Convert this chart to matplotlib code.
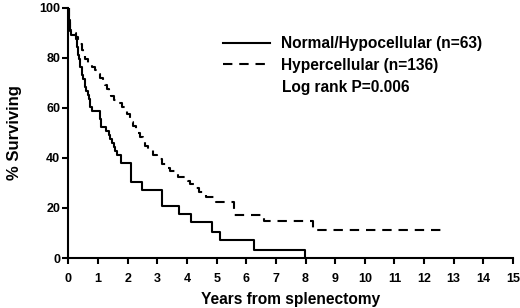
import matplotlib
matplotlib.use("Agg")
import matplotlib.pyplot as plt
from matplotlib.lines import Line2D

plt.rcParams['font.family'] = ['Liberation Sans', 'DejaVu Sans']
plt.rcParams['font.weight'] = 'bold'

# Normal/Hypocellular (n=63) Kaplan-Meier steps
normal_t = [0.00, 0.02, 0.05, 0.08, 0.24, 0.28, 0.33, 0.37, 0.40, 0.45, 0.50, 0.55,
            0.60, 0.65, 0.70, 0.74, 0.78, 1.06, 1.10, 1.28, 1.36, 1.40, 1.46, 1.52,
            1.57, 1.65, 1.76, 2.10, 2.48, 3.14, 3.72, 4.15, 4.85, 5.12, 6.27, 7.97]
normal_s = [100, 95.2, 90.5, 88.9, 87.3, 84.1, 81.0, 79.4, 76.2, 73.0, 71.4, 68.3,
            66.7, 65.1, 63.5, 60.3, 58.7, 55.6, 52.4, 50.8, 49.2, 47.6, 46.0, 44.4,
            42.9, 41.3, 38.1, 30.2, 27.0, 20.6, 17.5, 14.3, 10.5, 7.0, 3.2, 0.0]

# Hypercellular (n=136) Kaplan-Meier steps
hyper_t = [0.00, 0.01, 0.03, 0.05, 0.10, 0.25, 0.33, 0.40, 0.45, 0.50, 0.56, 0.65,
           0.78, 0.89, 0.97, 1.06, 1.15, 1.22, 1.29, 1.36, 1.45, 1.55, 1.67, 1.80,
           1.90, 1.97, 2.08, 2.15, 2.19, 2.28, 2.36, 2.42, 2.50, 2.59, 2.70, 2.86,
           3.00, 3.15, 3.30, 3.44, 3.68, 4.04, 4.10, 4.25, 4.39, 4.63, 4.98, 5.57,
           6.60, 8.24, 12.75]
hyper_s = [100, 97.8, 94.9, 91.2, 89.7, 88.2, 86.8, 85.3, 83.1, 81.6, 79.4, 77.9,
           76.5, 75.0, 73.5, 72.1, 70.6, 69.1, 67.6, 66.2, 64.7, 63.2, 61.8, 60.3,
           58.8, 57.4, 55.9, 54.4, 52.9, 51.5, 50.0, 48.5, 47.1, 44.9, 43.4, 41.2,
           39.7, 37.5, 36.0, 34.6, 32.4, 30.9, 29.4, 27.9, 26.3, 24.3, 22.3, 17.2,
           14.8, 11.0, 11.0]

x_ticks = list(range(0, 16))
y_ticks = [0, 20, 40, 60, 80, 100]

fig = plt.figure(figsize=(5.2, 3.08), dpi=100)
ax = fig.add_axes([0.1317, 0.1623, 0.8548, 0.8127])

ax.step(normal_t, normal_s, where='post', color='black', lw=1.5,
        label='Normal/Hypocellular (n=63)')
ax.step(hyper_t, hyper_s, where='post', color='black', lw=1.5,
        linestyle=(0, (4.5, 3.3)), label='Hypercellular (n=136)')

ax.set_xlim(0, 15)
ax.set_ylim(0, 100)
ax.set_xticks(x_ticks)
ax.set_yticks(y_ticks)
ax.tick_params(axis='both', direction='out', length=4, width=1.5, labelsize=9)
ax.tick_params(axis='x', pad=6.5)
ax.tick_params(axis='y', pad=2)
for lab in ax.get_xticklabels() + ax.get_yticklabels():
    lab.set_fontweight('bold')
for s in ['top', 'right']:
    ax.spines[s].set_visible(False)
for s in ['left', 'bottom']:
    ax.spines[s].set_linewidth(1.5)

ax.set_xlabel('Years from splenectomy', fontsize=11.2, fontweight='bold', labelpad=5)
ax.set_ylabel('% Surviving', fontsize=12, fontweight='bold', labelpad=12)

handles = [Line2D([], [], color='black', lw=1.5),
           Line2D([], [], color='black', lw=1.5, linestyle=(0, (4.5, 3.3)))]
labels = ['Normal/Hypocellular (n=63)', 'Hypercellular (n=136)']
leg = ax.legend(handles, labels, loc='upper left', bbox_to_anchor=(0.3476, 0.886),
                frameon=False, borderpad=0, borderaxespad=0, handlelength=3.0,
                handletextpad=0.75, labelspacing=0.42,
                prop={'weight': 'bold', 'size': 11.2})
ax.text(0.4796, 0.6816, 'Log rank P=0.006', transform=ax.transAxes,
        fontsize=11.2, fontweight='bold', va='center', ha='left')

fig.savefig('out.png', dpi=100)
